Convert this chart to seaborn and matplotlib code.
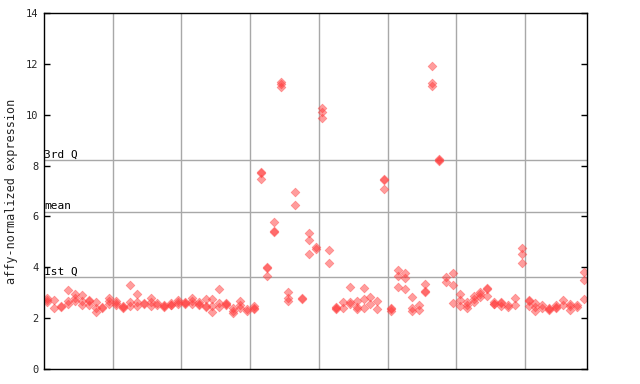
import matplotlib
matplotlib.use("Agg")
import matplotlib.pyplot as plt
import seaborn as sns
import pandas as pd

# expression values per sample column (replicates)
sample_values = [
    [2.80, 2.70, 2.64], [2.70, 2.41], [2.46, 2.42], [3.11, 2.69, 2.56], [2.95, 2.78, 2.66],
    [2.90, 2.66, 2.53], [2.70, 2.66, 2.50], [2.65, 2.41, 2.25], [2.43, 2.40], [2.80, 2.67, 2.54],
    [2.66, 2.58, 2.52], [2.48, 2.44, 2.39], [3.30, 2.62, 2.49], [2.94, 2.65, 2.49], [2.58, 2.54],
    [2.78, 2.62, 2.47], [2.60, 2.52], [2.52, 2.46, 2.42], [2.60, 2.52, 2.50], [2.71, 2.62, 2.54],
    [2.65, 2.59, 2.56], [2.80, 2.67, 2.54], [2.62, 2.54, 2.50], [2.75, 2.46, 2.42], [2.75, 2.48, 2.23],
    [3.15, 2.58, 2.44], [2.58, 2.55, 2.52], [2.40, 2.30, 2.20], [2.67, 2.52, 2.41], [2.34, 2.30],
    [2.47, 2.39, 2.36], [7.76, 7.72, 7.46], [4.02, 3.96, 3.67], [5.77, 5.43, 5.37], [11.30, 11.19, 11.08],
    [3.02, 2.78, 2.67], [6.95, 6.45], [2.80, 2.76], [5.34, 5.06, 4.51], [4.81, 4.72],
    [10.25, 10.12, 9.86], [4.67, 4.16], [2.45, 2.40, 2.36], [2.62, 2.41], [3.21, 2.63, 2.57],
    [2.67, 2.45, 2.37], [3.17, 2.74, 2.39], [2.83, 2.54], [2.67, 2.36], [7.46, 7.42, 7.07],
    [2.39, 2.36, 2.28], [3.89, 3.66, 3.22], [3.79, 3.57, 3.15], [2.83, 2.39, 2.28], [2.52, 2.31],
    [3.33, 3.06, 3.02], [11.90, 11.23, 11.13], [8.27, 8.22, 8.18], [3.61, 3.43], [3.79, 3.29, 2.58],
    [2.94, 2.70, 2.47], [2.62, 2.52, 2.41], [2.86, 2.75, 2.65], [3.02, 2.94, 2.83], [3.19, 3.15, 2.86],
    [2.62, 2.57, 2.54], [2.62, 2.58, 2.49], [2.52, 2.44], [2.79, 2.52], [4.74, 4.52, 4.17],
    [2.71, 2.67, 2.47], [2.58, 2.43, 2.29], [2.52, 2.39], [2.41, 2.37, 2.31], [2.52, 2.44, 2.41],
    [2.71, 2.52], [2.57, 2.47, 2.31], [2.52, 2.44], [3.81, 3.49, 2.75],
]

# reference statistics lines
stat_labels = ["3rd Q", "mean", "1st Q"]
stat_values = [8.22, 6.19, 3.60]

y_ticks = [0, 2, 4, 6, 8, 10, 12, 14]
group_size = 10

rows = []
for i, vals in enumerate(sample_values):
    for v in vals:
        rows.append({"sample": i, "value": v})
df = pd.DataFrame(rows)

sns.set_style("white")
plt.rcParams["font.family"] = ["DejaVu Sans Mono", "DejaVu Sans"]

fig = plt.figure(figsize=(6.4, 3.84), dpi=100)
ax = fig.add_axes([44 / 640, 15 / 384, 543 / 640, 356 / 384])

n = len(sample_values)
ax.set_xlim(-0.5, n - 0.5)
ax.set_ylim(0, 14)

grid_color = "#a8a8a8"
for b in range(group_size, n, group_size):
    ax.axvline(b - 0.5, color=grid_color, lw=1, zorder=1)
for lab, v in zip(stat_labels, stat_values):
    ax.axhline(v, color=grid_color, lw=1, zorder=1)
    ax.text(-0.45, v + 0.02, lab, fontsize=8, ha="left", va="bottom", color="black", zorder=3)

sns.scatterplot(data=df, x="sample", y="value", marker="D", s=20, color="#ff3c3c",
                alpha=0.5, edgecolor="#ff4646", linewidth=0.5, ax=ax, zorder=2, legend=False)

ax.set_yticks(y_ticks)
ax.set_yticklabels([str(t) for t in y_ticks], fontsize=7.5)
ax.set_xticks([])
ax.tick_params(axis="y", direction="in", length=4, width=1, color="black",
               left=True, right=True, pad=4)
ax.set_xlabel("")
ax.set_ylabel("affy-normalized expression", fontsize=8.5, labelpad=6)
for sp in ax.spines.values():
    sp.set_color("black")
    sp.set_linewidth(1)
    sp.set_visible(True)

fig.savefig("out.png", dpi=100)
